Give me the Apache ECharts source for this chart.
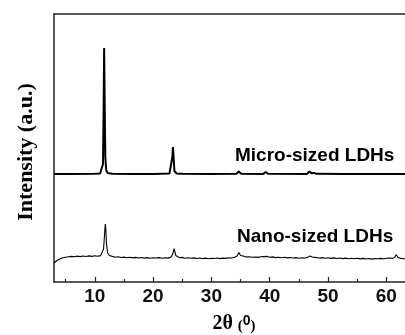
<!DOCTYPE html>
<html>
<head>
<meta charset="utf-8">
<script src="https://cdn.jsdelivr.net/npm/echarts@6/dist/echarts.min.js"></script>
<style>html,body{margin:0;padding:0;background:#fff}#c{width:405px;height:335px}</style>
</head>
<body>
<div id="c"></div>
<script>
// X tick labels and minor tick positions
var majorTicks = [10, 20, 30, 40, 50, 60];
var minorTicks = [5, 15, 25, 35, 45, 55];

// Micro-sized LDHs pattern (2θ, intensity in arbitrary units)
var microX = [3.0, 6.0, 10.0, 10.9, 11.2, 11.4, 11.5, 11.6, 11.7, 11.8, 11.95, 12.2, 13.0, 16.0, 20.0, 22.8, 23.1, 23.3, 23.4, 23.5, 23.65, 24.0, 25.0, 30.0, 34.3, 34.7, 35.1, 38.9, 39.3, 39.7, 46.4, 46.8, 47.2, 47.6, 48.0, 52.7, 53.0, 53.3, 56.1, 56.4, 56.7, 60.1, 60.4, 60.7, 61.5, 61.8, 62.1, 63.2];
var microY = [108, 108, 108.2, 108.5, 110, 118, 165, 234, 175, 125, 112, 109, 108.3, 108, 108.1, 108.4, 110, 125, 135, 126, 111, 108.6, 108.2, 108, 108.2, 110.5, 108.3, 108.1, 110, 108.3, 108.1, 110.5, 108.6, 109.2, 108.2, 108, 109, 108, 108, 108.9, 108, 108, 108.8, 108, 108, 109, 108, 108];

// Nano-sized LDHs pattern
var nanoX = [3.0, 3.5, 4.0, 4.5, 5.0, 5.5, 6.0, 6.5, 7.0, 7.5, 8.0, 8.5, 9.0, 9.5, 10.0, 10.5, 11.0, 11.3, 11.5, 11.7, 11.8, 11.9, 12.0, 12.2, 12.5, 13.0, 13.5, 14.0, 14.5, 15.0, 15.5, 16.0, 16.5, 17.0, 17.5, 18.0, 18.5, 19.0, 19.5, 20.0, 20.5, 21.0, 21.5, 22.0, 22.5, 23.0, 23.3, 23.5, 23.6, 23.7, 23.9, 24.2, 24.5, 25.0, 25.5, 26.0, 26.5, 27.0, 27.5, 28.0, 28.5, 29.0, 29.5, 30.0, 30.5, 31.0, 31.5, 32.0, 32.5, 33.0, 33.5, 34.0, 34.4, 34.7, 35.0, 35.3, 35.6, 36.0, 36.5, 37.0, 37.5, 38.0, 38.5, 39.0, 39.3, 39.6, 40.0, 40.5, 41.0, 41.5, 42.0, 42.5, 43.0, 43.5, 44.0, 44.5, 45.0, 45.5, 46.0, 46.5, 46.9, 47.3, 47.8, 48.0, 48.5, 49.0, 49.5, 50.0, 50.5, 51.0, 51.5, 52.0, 52.5, 53.0, 53.5, 54.0, 54.5, 55.0, 55.5, 56.0, 56.5, 57.0, 57.5, 58.0, 58.5, 59.0, 59.5, 60.0, 60.3, 60.6, 61.0, 61.4, 61.7, 62.0, 62.5, 63.0, 63.5];
var nanoY = [19.0, 21.5, 23.0, 24.2, 24.8, 25.2, 25.6, 25.2, 25.9, 25.4, 26.0, 25.5, 26.1, 25.6, 26.2, 25.8, 26.4, 27.5, 33, 50, 58, 52, 38, 29, 26.5, 25.6, 24.8, 25.2, 24.5, 24.9, 24.2, 24.7, 24.1, 24.6, 24.0, 24.5, 23.9, 24.4, 23.8, 24.3, 24.0, 24.4, 23.7, 24.2, 23.9, 24.6, 27, 31, 33.3, 31, 26.5, 25.0, 24.2, 24.6, 23.8, 24.3, 23.7, 24.1, 23.5, 24.0, 23.4, 23.9, 23.3, 23.8, 23.5, 24.0, 23.4, 23.9, 23.6, 24.2, 24.0, 24.8, 26.0, 29.5, 26.5, 25.5, 25.8, 24.9, 25.3, 24.7, 25.0, 24.6, 25.2, 25.4, 26.8, 25.6, 24.8, 25.1, 24.4, 24.8, 24.2, 24.7, 24.1, 24.5, 24.0, 24.4, 23.8, 24.3, 24.0, 24.6, 26.0, 25.0, 24.6, 24.3, 24.0, 24.4, 23.8, 24.2, 23.6, 24.1, 23.5, 24.0, 23.4, 23.9, 23.3, 23.8, 23.2, 23.7, 23.1, 23.6, 23.0, 23.5, 22.9, 23.4, 23.2, 23.6, 23.0, 23.8, 25.3, 24.0, 23.6, 24.5, 27.3, 24.5, 23.6, 23.2, 23.5];

function pairs(xs, ys) { return xs.map(function (x, i) { return [x, ys[i]]; }); }

var X_MIN = 3, X_MAX = 63.2;
var gridPos = { left: 54, right: 0, top: 14, bottom: 53 };
var axisColor = '#222';

var chart = echarts.init(document.getElementById('c'), null, { renderer: 'canvas' });
chart.setOption({
  animation: false,
  backgroundColor: '#fff',
  grid: [
    Object.assign({}, gridPos),
    Object.assign({}, gridPos)
  ],
  xAxis: [
    {
      gridIndex: 0, type: 'value', min: X_MIN, max: X_MAX, position: 'bottom',
      axisLine: { show: true, onZero: false, lineStyle: { color: axisColor, width: 1.5 } },
      axisTick: { show: true, inside: true, length: 5, customValues: majorTicks, lineStyle: { color: axisColor, width: 1.2 } },
      axisLabel: { show: true, customValues: majorTicks, margin: 5, color: '#111', fontFamily: 'Liberation Sans', fontWeight: 'bold', fontSize: 19 },
      splitLine: { show: false }
    },
    {
      gridIndex: 0, type: 'value', min: X_MIN, max: X_MAX, position: 'top',
      axisLine: { show: true, onZero: false, lineStyle: { color: axisColor, width: 1.5 } },
      axisTick: { show: false }, axisLabel: { show: false }, splitLine: { show: false }
    },
    {
      gridIndex: 1, type: 'value', min: X_MIN, max: X_MAX, position: 'bottom',
      axisLine: { show: false },
      axisTick: { show: true, inside: true, length: 3, customValues: minorTicks, lineStyle: { color: axisColor, width: 1.2 } },
      axisLabel: { show: false }, splitLine: { show: false }
    }
  ],
  yAxis: [
    {
      gridIndex: 0, type: 'value', min: 0, max: 268, position: 'left',
      axisLine: { show: true, onZero: false, lineStyle: { color: axisColor, width: 1.5 } },
      axisTick: { show: false }, axisLabel: { show: false }, splitLine: { show: false }
    },
    {
      gridIndex: 1, type: 'value', min: 0, max: 268,
      axisLine: { show: false }, axisTick: { show: false }, axisLabel: { show: false }, splitLine: { show: false }
    }
  ],
  series: [
    {
      name: 'Micro-sized LDHs', type: 'line', xAxisIndex: 0, yAxisIndex: 0,
      data: pairs(microX, microY), showSymbol: false, symbol: 'none',
      lineStyle: { color: '#000', width: 2 }
    },
    {
      name: 'Nano-sized LDHs', type: 'line', xAxisIndex: 0, yAxisIndex: 0,
      data: pairs(nanoX, nanoY), showSymbol: false, symbol: 'none',
      lineStyle: { color: '#000', width: 1.1 }
    }
  ],
  graphic: [
    {
      type: 'text', left: 235, top: 146,
      style: { text: 'Micro-sized LDHs', fill: '#000', font: 'bold 19px "Liberation Sans"' }
    },
    {
      type: 'text', left: 237, top: 227,
      style: { text: 'Nano-sized LDHs', fill: '#000', font: 'bold 19px "Liberation Sans"' }
    },
    {
      type: 'text', x: 26, y: 152, rotation: Math.PI / 2,
      style: { text: 'Intensity (a.u.)', fill: '#000', font: 'bold 22px "Liberation Serif"', align: 'center', verticalAlign: 'middle' }
    },
    {
      type: 'text', x: 234, y: 324,
      style: {
        text: '{a|2θ }{b|(}{c|0}{b|)}', align: 'center', verticalAlign: 'middle',
        rich: {
          a: { font: 'bold 20px "Liberation Serif"', fill: '#000', verticalAlign: 'bottom' },
          b: { font: 'bold 15px "Liberation Serif"', fill: '#000', verticalAlign: 'bottom' },
          c: { font: 'bold 14px "Liberation Sans"', fill: '#000', verticalAlign: 'top' }
        }
      }
    }
  ]
});
</script>
</body>
</html>
